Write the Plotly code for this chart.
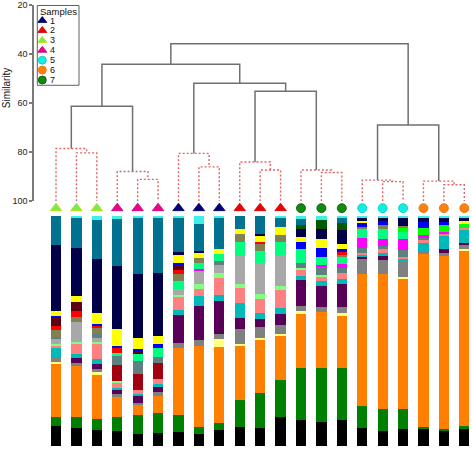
import plotly.graph_objects as go

# ---------------- data ----------------
samples = list(range(21))
sample_group = [3, 3, 3, 4, 4, 4, 1, 1, 1, 2, 2, 2, 7, 7, 7, 5, 5, 5, 6, 6, 6]

group_labels = ["1", "2", "3", "4", "5", "6", "7"]
group_symbols = ["triangle-up", "triangle-up", "triangle-up", "triangle-up", "circle", "circle", "circle"]
group_colors = ["#00007A", "#F00000", "#70F050", "#F0008C", "#10F0E0", "#FF8010", "#108A10"]
group_edges = ["#000060", "#C80000", "#C8D800", "#C00070", "#00C8C0", "#E07000", "#005000"]

# linkage: (left node, right node, similarity); leaves 0..20, new nodes 21..
linkage = [
    (7, 8, 86.0), (6, 21, 80.5),
    (1, 2, 80.3), (0, 23, 78.5),
    (4, 5, 91.1), (3, 25, 87.9),
    (10, 11, 87.3), (9, 27, 84.0),
    (13, 14, 88.3), (12, 29, 87.3),
    (16, 17, 92.0), (15, 31, 91.4),
    (19, 20, 93.3), (18, 33, 91.8),
    (24, 26, 61.3), (28, 30, 55.2), (22, 36, 51.9),
    (35, 37, 44.2), (32, 34, 68.9), (38, 39, 35.8),
]
sim_ticks = [20, 40, 60, 80, 100]

taxa_colors = {
    "black": "#000000", "green": "#008000", "orange": "#FF8000", "lightyellow": "#FFFF80",
    "grey": "#808080", "purple": "#580058", "cyan": "#00BABA", "salmon": "#FF8080",
    "lightgreen": "#80FF80", "lightgrey": "#A8A8A8", "darkred": "#A00010", "slate": "#5E8080",
    "magenta": "#FF00FF", "springgreen": "#00FF80", "brightgreen": "#00FF00", "olive": "#808050",
    "red": "#FF0000", "maroon": "#600010", "blue": "#0000FF", "yellow": "#FFFF00",
    "navy": "#000048", "darkgreen": "#005A00", "teal": "#00728F", "topcyan": "#3FF0E8",
}

black = [8.6, 7.6, 6.9, 6.6, 5.2, 5.7, 6.2, 5.2, 6.9, 8.3, 8.0, 12.6, 11.2, 10.5, 11.2, 7.6, 6.6, 7.6, 7.2, 6.6, 7.6]
green = [4.0, 4.7, 5.0, 6.0, 8.6, 8.6, 7.2, 3.2, 3.2, 11.8, 14.9, 16.1, 22.7, 23.4, 22.7, 9.6, 9.6, 8.6, 0.9, 0.7, 1.0]
orange = [23.0, 22.0, 19.1, 8.6, 4.6, 7.6, 29.0, 35.2, 33.0, 23.4, 23.0, 19.3, 23.3, 24.3, 22.6, 57.2, 58.5, 56.8, 74.7, 74.6, 76.4]
lightyellow = [0.7, 0, 1.0, 0, 0, 0, 0, 0, 3.3, 1.0, 1.1, 0.9, 1.0, 0, 1.4, 0, 0, 0.7, 0, 0, 0.6]
grey = [2.1, 1.4, 1.4, 1.4, 0.8, 1.4, 2.2, 2.4, 2.2, 6.6, 4.6, 3.7, 2.2, 2.2, 2.4, 6.5, 6.2, 6.5, 1.4, 1.4, 1.7]
purple = [0, 2.0, 2.4, 1.9, 3.0, 2.2, 12.0, 14.9, 14.6, 4.6, 3.6, 4.9, 11.2, 9.3, 10.0, 1.1, 1.7, 0, 0, 1.7, 1.0]
cyan = [4.3, 1.9, 1.9, 0.7, 0.8, 1.4, 2.2, 4.3, 2.6, 6.5, 2.6, 2.6, 1.9, 1.9, 2.3, 1.0, 1.4, 1.1, 3.4, 5.5, 5.5]
salmon = [1.1, 4.3, 6.5, 2.2, 1.9, 2.2, 5.5, 3.2, 7.5, 6.5, 6.2, 7.9, 2.4, 1.9, 2.4, 0.7, 1.7, 1.0, 1.1, 1.1, 1.0]
lightgreen = [0.4, 0.7, 1.1, 0.7, 0, 0, 1.0, 2.2, 1.9, 1.7, 2.0, 1.7, 1.1, 1.0, 0, 0, 0, 0, 0, 0, 0]
lightgrey = [2.1, 8.6, 1.7, 0, 0, 0, 2.4, 5.3, 3.6, 12.4, 13.4, 13.4, 0, 0, 0, 0, 0, 0, 0, 0, 0]
darkred = [0, 0, 0, 7.2, 6.9, 6.9, 0, 0, 0, 0, 0, 0, 0, 0, 0, 0, 0, 0, 0, 0, 0]
slate = [1.0, 0, 1.7, 3.9, 5.7, 2.9, 0, 0, 1.7, 0, 0, 0, 2.0, 3.3, 2.2, 1.9, 1.0, 3.2, 1.0, 0, 0]
magenta = [0, 0, 0, 0, 0, 0, 0, 1.1, 0, 0, 0, 0, 0, 1.1, 1.7, 4.3, 3.3, 4.7, 1.4, 0.7, 0]
springgreen = [0, 0, 0, 1.1, 3.2, 3.9, 3.6, 2.4, 2.9, 6.0, 5.3, 5.7, 6.0, 3.4, 3.3, 4.3, 4.5, 2.9, 0, 0, 0]
brightgreen = [0, 0, 0, 0, 0, 0, 0, 0, 0, 0, 0, 0, 0, 0, 0, 0, 0, 2.2, 2.9, 3.2, 1.9]
olive = [2.9, 2.1, 2.4, 0, 0, 0, 2.9, 2.2, 0, 3.6, 3.2, 3.2, 0, 0, 1.0, 0.5, 1.4, 0.7, 0, 0, 0]
red = [1.9, 2.9, 0.9, 2.2, 0, 0, 1.7, 0, 0, 0, 0.9, 0, 0, 0, 0.9, 0, 0, 0, 0, 0, 0]
maroon = [3.6, 3.8, 0, 0, 1.0, 0, 2.2, 0, 0, 0, 0, 0, 0, 0, 0, 0, 0, 0, 0, 0, 0]
blue = [0.7, 0, 1.0, 1.0, 1.1, 1.4, 1.1, 0, 0, 0, 0, 0, 3.3, 3.9, 1.4, 1.9, 1.7, 0, 2.6, 1.1, 0]
yellow = [2.4, 2.3, 4.7, 7.2, 4.9, 3.6, 3.2, 2.4, 2.3, 1.9, 2.9, 3.3, 2.0, 4.0, 2.2, 0.7, 0, 0, 0, 0, 1.0]
navy = [28.4, 21.0, 23.4, 27.7, 28.4, 27.3, 1.4, 0.7, 0, 0, 0.7, 0, 3.7, 4.3, 6.0, 1.3, 1.4, 3.2, 1.7, 1.7, 1.4]
darkgreen = [0, 0, 0, 0, 0, 0, 0, 0, 0, 0, 0, 0, 1.7, 3.6, 3.3, 0, 0, 0, 0, 0, 0]
teal = [12.6, 12.5, 16.8, 20.1, 24.7, 24.0, 14.7, 11.9, 13.5, 5.7, 7.6, 3.9, 2.6, 0, 2.0, 0, 0, 0, 0, 0, 0]
topcyan = [0, 1.0, 1.9, 1.4, 0.9, 0.9, 0.9, 3.3, 0.9, 0, 0, 0.9, 1.1, 1.9, 0.9, 0.9, 0.9, 0.9, 0.9, 0.9, 0.9]

taxa = [
    ("black", black), ("green", green), ("orange", orange), ("lightyellow", lightyellow),
    ("grey", grey), ("purple", purple), ("cyan", cyan), ("salmon", salmon),
    ("lightgreen", lightgreen), ("lightgrey", lightgrey), ("darkred", darkred), ("slate", slate),
    ("magenta", magenta), ("springgreen", springgreen), ("brightgreen", brightgreen), ("olive", olive),
    ("red", red), ("maroon", maroon), ("blue", blue), ("yellow", yellow),
    ("navy", navy), ("darkgreen", darkgreen), ("teal", teal), ("topcyan", topcyan),
]

# ---------------- layout geometry ----------------
W, H = 472, 452
ML, MR, MT, MB = 34, 0, 5, 1
PW = W - ML - MR
PH = H - MT - MB
X0, X1 = -1.0777, 20.377
def yfrac(py):
    return (H - MB - py) / PH

fig = go.Figure()

# stacked bars
for name, vals in taxa:
    fig.add_trace(go.Bar(x=samples, y=vals, width=0.5, marker=dict(color=taxa_colors[name], line=dict(width=0)),
                         xaxis="x", yaxis="y", showlegend=False, hoverinfo="skip"))

# dendrogram
pos = {i: (float(i), 100.0) for i in samples}
solid_x, solid_y, dot_x, dot_y = [], [], [], []
for k, (a, b, h) in enumerate(linkage):
    xa, ha = pos[a]
    xb, hb = pos[b]
    xs = [xa, xa, xb, xb, None]
    ys = [ha, h, h, hb, None]
    if h >= 75:
        dot_x += xs; dot_y += ys
    else:
        solid_x += xs; solid_y += ys
    pos[len(samples) + k] = ((xa + xb) / 2, h)

fig.add_trace(go.Scatter(x=dot_x, y=dot_y, mode="lines", line=dict(color="#E06464", width=1.4, dash="2px,2px"),
                         xaxis="x", yaxis="y2", hoverinfo="skip", showlegend=False))
fig.add_trace(go.Scatter(x=solid_x, y=solid_y, mode="lines", line=dict(color="#707070", width=1.5),
                         xaxis="x", yaxis="y2", hoverinfo="skip", showlegend=False))

# sample markers under the dendrogram (own thin axis y4)
fig.add_trace(go.Scatter(
    x=samples, y=[0.5] * len(samples), mode="markers", cliponaxis=False,
    marker=dict(symbol=[group_symbols[g - 1] for g in sample_group],
                color=[group_colors[g - 1] for g in sample_group], opacity=1,
                size=[10 if group_symbols[g - 1].startswith("tri") else 9 for g in sample_group],
                line=dict(color=[group_edges[g - 1] for g in sample_group], width=0.8)),
    xaxis="x", yaxis="y4", hoverinfo="skip", showlegend=False))

# manual legend (pixel overlay axes x2/y3)
leg_py = [20.7 + 10 * i for i in range(len(group_labels))]
fig.add_trace(go.Scatter(
    x=[42.3] * len(group_labels), y=leg_py, mode="markers", cliponaxis=False,
    marker=dict(symbol=group_symbols, color=group_colors, size=8, opacity=1,
                line=dict(color=group_edges, width=0.8)),
    xaxis="x2", yaxis="y3", hoverinfo="skip", showlegend=False))

annotations = [
    dict(text="Samples", x=(39.0 - ML) / PW, y=yfrac(11.5), xref="paper", yref="paper", borderpad=0,
         xanchor="left", yanchor="middle", showarrow=False, font=dict(size=9.5, color="#111", family="Arial")),
    dict(text="Similarity", x=(6 - ML) / PW, y=yfrac(89), xref="paper", yref="paper", textangle=-90,
         xanchor="center", yanchor="middle", showarrow=False, font=dict(size=10, color="#111", family="Arial")),
]
for lab, py in zip(group_labels, leg_py):
    annotations.append(dict(text=lab, x=(48.5 - ML) / PW, y=yfrac(py), xref="paper", yref="paper", borderpad=0,
                            xanchor="left", yanchor="middle", showarrow=False,
                            font=dict(size=9, color="#111", family="Arial")))

shapes = [dict(type="rect", xref="paper", yref="paper", x0=(37.3 - ML) / PW, x1=(79 - ML) / PW,
               y0=yfrac(86), y1=yfrac(5.5), line=dict(color="#606060", width=1), fillcolor="rgba(0,0,0,0)")]

fig.update_layout(
    width=W, height=H, margin=dict(l=ML, r=MR, t=MT, b=MB),
    paper_bgcolor="white", plot_bgcolor="rgba(0,0,0,0)",
    barmode="stack", barnorm="percent", showlegend=False,
    xaxis=dict(range=[X0, X1], visible=False, domain=[0, 1], anchor="y"),
    yaxis=dict(range=[0, 100], visible=False, domain=[yfrac(450), yfrac(218)], anchor="x"),
    yaxis2=dict(range=[100, 20], domain=[yfrac(203), 1.0], anchor="x", tickvals=sim_ticks,
                showline=True, linecolor="#7A7A7A", linewidth=1.5, ticks="outside", ticklen=3,
                tickwidth=1.5, tickcolor="#7A7A7A", showgrid=False, zeroline=False,
                ticklabeloverflow="allow",
                tickfont=dict(size=9, color="#222", family="Arial")),
    yaxis4=dict(range=[0, 1], domain=[yfrac(216), yfrac(204)], anchor="x", visible=False),
    xaxis2=dict(range=[ML, W - MR], visible=False, domain=[0, 1], anchor="y3"),
    yaxis3=dict(range=[H - MB, MT], visible=False, domain=[0, 1], anchor="x2"),
    annotations=annotations, shapes=shapes,
)

fig.write_html("out.html", config={"displayModeBar": False},
               post_script="document.body.style.margin='0px';")
